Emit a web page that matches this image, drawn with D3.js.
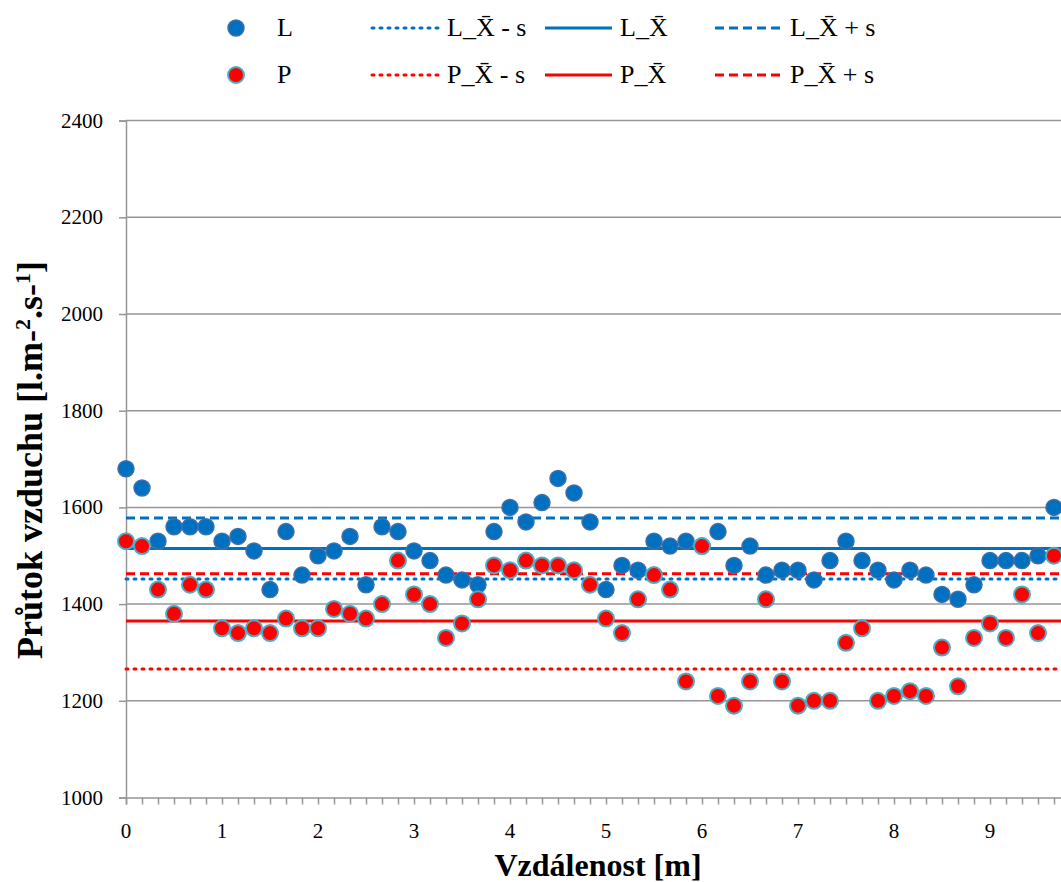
<!DOCTYPE html>
<html>
<head>
<meta charset="utf-8">
<script src="https://cdn.jsdelivr.net/npm/d3@7"></script>
<style>
	body { margin: 0; background: #fff; }
	svg { display: block; font-family: "Liberation Serif", "Times New Roman", serif; }
</style>
</head>
<body>
<svg id="chart"></svg>
<script>

// positions along the profile, every 1/6 m
var steps = d3.range(60);

var valuesL = [1680,1640,1530,1560,1560,1560,1530,1540,1510,1430,1550,1460,
	1500,1510,1540,1440,1560,1550,1510,1490,1460,1450,1440,1550,
	1600,1570,1610,1660,1630,1570,1430,1480,1470,1530,1520,1530,
	1520,1550,1480,1520,1460,1470,1470,1450,1490,1530,1490,1470,
	1450,1470,1460,1420,1410,1440,1490,1490,1490,1500,1600,1660];

var valuesP = [1530,1520,1430,1380,1440,1430,1350,1340,1350,1340,1370,1350,
	1350,1390,1380,1370,1400,1490,1420,1400,1330,1360,1410,1480,
	1470,1490,1480,1480,1470,1440,1370,1340,1410,1460,1430,1240,
	1520,1210,1190,1240,1410,1240,1190,1200,1200,1320,1350,1200,
	1210,1220,1210,1310,1230,1330,1360,1330,1420,1340,1500,1480];

// mean and mean +- standard deviation
var statNames = ['L_X\u0304 - s', 'L_X\u0304', 'L_X\u0304 + s', 'P_X\u0304 - s', 'P_X\u0304', 'P_X\u0304 + s'];
var statValues = [1452, 1515, 1578, 1266, 1365, 1463];

var yTicks = [1000, 1200, 1400, 1600, 1800, 2000, 2200, 2400];
var xTicks = [0, 1, 2, 3, 4, 5, 6, 7, 8, 9];

var blue = '#0070c0', red = '#ff0000';
var serif = '"Liberation Serif", "Times New Roman", serif';

var width = 1061, height = 882;

var svg = d3.select('#chart').attr('width', width).attr('height', height);

var xScale = d3.scaleLinear().domain([0, 10]).range([126, 1086]);
var yScale = d3.scaleLinear().domain([1000, 2400]).range([797.5, 120.6]);

// grid lines
svg.append('g')
	.selectAll('line')
	.data(yTicks.slice(1))
	.enter().append('line')
	.attr('x1', xScale(0)).attr('x2', width)
	.attr('y1', function(d) { return yScale(d); })
	.attr('y2', function(d) { return yScale(d); })
	.attr('stroke', '#969696').attr('stroke-width', 1.5);

// axes: lines and ticks only, labels drawn separately
var yAxis = svg.append('g')
	.attr('transform', 'translate(' + xScale(0) + ',0)')
	.call(d3.axisLeft(yScale).tickValues(yTicks).tickSize(7).tickFormat(''));

var xAxis = svg.append('g')
	.attr('transform', 'translate(0,' + yScale(1000) + ')')
	.call(d3.axisBottom(xScale).tickValues(d3.range(0, 61).map(function(i) { return i / 6; })).tickSize(7).tickFormat(''));

[yAxis, xAxis].forEach(function(ax) {
	ax.select('.domain').attr('stroke', '#969696').attr('stroke-width', 1.5);
	ax.selectAll('.tick line').attr('stroke', '#969696').attr('stroke-width', 1.5);
});

svg.append('g')
	.attr('font-family', serif).attr('font-size', 21)
	.selectAll('text')
	.data(yTicks)
	.enter().append('text')
	.attr('x', 103)
	.attr('y', function(d) { return yScale(d) + 7; })
	.attr('text-anchor', 'end')
	.text(function(d) { return d; });

svg.append('g')
	.attr('font-family', serif).attr('font-size', 21)
	.selectAll('text')
	.data(xTicks)
	.enter().append('text')
	.attr('x', function(d) { return xScale(d); })
	.attr('y', 838)
	.attr('text-anchor', 'middle')
	.text(function(d) { return d; });

// mean lines
var dashes = ['2,6', null, '9,5'];
svg.append('g')
	.selectAll('line')
	.data(statValues)
	.enter().append('line')
	.attr('x1', xScale(0)).attr('x2', width)
	.attr('y1', function(d) { return yScale(d); })
	.attr('y2', function(d) { return yScale(d); })
	.attr('stroke', function(d, i) { return i < 3 ? blue : red; })
	.attr('stroke-width', 3)
	.attr('stroke-linecap', function(d, i) { return i % 3 === 0 ? 'round' : 'butt'; })
	.attr('stroke-dasharray', function(d, i) { return dashes[i % 3]; });

// points
svg.append('g')
	.selectAll('circle')
	.data(steps)
	.enter().append('circle')
	.attr('cx', function(i) { return xScale(i / 6); })
	.attr('cy', function(i) { return yScale(valuesL[i]); })
	.attr('r', 8)
	.attr('fill', blue)
	.attr('stroke', '#3f6fa8').attr('stroke-width', 1.5);

svg.append('g')
	.selectAll('circle')
	.data(steps)
	.enter().append('circle')
	.attr('cx', function(i) { return xScale(i / 6); })
	.attr('cy', function(i) { return yScale(valuesP[i]); })
	.attr('r', 8)
	.attr('fill', red)
	.attr('stroke', '#4bacc6').attr('stroke-width', 2);

// axis titles
svg.append('text')
	.attr('x', 598).attr('y', 876)
	.attr('text-anchor', 'middle')
	.attr('font-family', serif).attr('font-size', 32).attr('font-weight', 'bold')
	.text('Vzdálenost [m]');

var yTitle = svg.append('text')
	.attr('transform', 'translate(42,460) rotate(-90)')
	.attr('text-anchor', 'middle')
	.attr('font-family', serif).attr('font-size', 36).attr('font-weight', 'bold');
yTitle.append('tspan').text('Průtok vzduchu [l.m-');
yTitle.append('tspan').attr('baseline-shift', 'super').attr('font-size', 22).text('2');
yTitle.append('tspan').text('.s-');
yTitle.append('tspan').attr('baseline-shift', 'super').attr('font-size', 22).text('1');
yTitle.append('tspan').text(']');

// legend
var legend = svg.append('g').attr('font-family', serif).attr('font-size', 26);
var rows = [{name: 'L', color: blue, stroke: '#3f6fa8', y: 28}, {name: 'P', color: red, stroke: '#4bacc6', y: 75}];
var legendX = [372, 545, 715];

rows.forEach(function(row, r) {
	legend.append('circle')
		.attr('cx', 236).attr('cy', row.y).attr('r', 8)
		.attr('fill', row.color).attr('stroke', row.stroke).attr('stroke-width', r ? 2 : 1.5);
	legend.append('text').attr('x', 277).attr('y', row.y + 8).text(row.name);

	legendX.forEach(function(lx, k) {
		legend.append('line')
			.attr('x1', lx).attr('x2', lx + 67)
			.attr('y1', row.y).attr('y2', row.y)
			.attr('stroke', row.color).attr('stroke-width', 3)
			.attr('stroke-linecap', k === 0 ? 'round' : 'butt')
			.attr('stroke-dasharray', dashes[k]);
		legend.append('text')
			.attr('x', lx + 75).attr('y', row.y + 8)
			.text(statNames[r * 3 + k]);
	});
});

</script>
</body>
</html>
